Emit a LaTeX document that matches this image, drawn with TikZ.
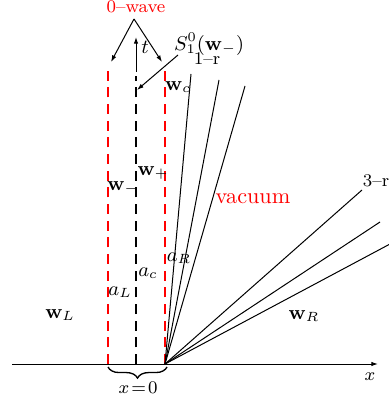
\documentclass[tikz,border=0pt]{standalone}
\usetikzlibrary{decorations.pathreplacing,arrows.meta}
\begin{document}
\begin{tikzpicture}[x=0.45pt,y=-0.45pt,
  lbl/.style={inner sep=0pt,font=\small},
  sml/.style={inner sep=0pt,font=\footnotesize},
  redd/.style={red,line width=0.6pt,dash pattern=on 4.5pt off 3pt},
  blkd/.style={black,line width=0.6pt,dash pattern=on 4.5pt off 3pt},
  fan/.style={line width=0.45pt},
  arr/.style={-{Latex[length=3pt,width=2pt]},line width=0.45pt}]
\useasboundingbox (0,0) rectangle (389,401);
% axis
\coordinate (xs) at (12,364);
\coordinate (xe) at (378,364);
\draw[arr] (xs) -- (xe);
\node[sml] (xl) at (370,377) {$x$};
% origin
\coordinate (O) at (165,364);
\coordinate (L0) at (108,364);
\coordinate (C0) at (136,364);
\coordinate (Ltop) at (108,68);
\coordinate (Rtop) at (165,68);
\coordinate (Ctop) at (136,76);
\draw[redd] (L0) -- (Ltop);
\draw[redd] (O) -- (Rtop);
\draw[blkd] (C0) -- (Ctop);
% t arrow
\coordinate (tb) at (136,72);
\coordinate (tt) at (136,37);
\draw[arr] (tb) -- (tt);
\node[lbl] (tl) at (145,47) {$t$};
% 1-r fan
\coordinate (r1) at (191,74);
\coordinate (r2) at (219,80);
\coordinate (r3) at (245,86);
\draw[fan] (O) -- (r1);
\draw[fan] (O) -- (r2);
\draw[fan] (O) -- (r3);
\node[sml] (orr) at (207,59) {1--r};
% 3-r fan
\coordinate (s1) at (362,190);
\coordinate (s2) at (380,222);
\coordinate (s3) at (390,244);
\draw[fan] (O) -- (s1);
\draw[fan] (O) -- (s2);
\draw[fan] (O) -- (s3);
\node[sml] (tr) at (376,181) {3--r};
% 0-wave
\node[red,sml,anchor=north] (zw) at (136,0) {0--wave};
\coordinate (zwa) at (134,19);
\coordinate (zwl) at (111,62);
\coordinate (zwr) at (162,62);
\draw[arr] (zwa) -- (zwl);
\draw[arr] (zwa) -- (zwr);
% S label
\node[lbl] (S) at (209,44) {$S^{0}_{1}(\mathbf{w}_-)$};
\coordinate (Sa) at (178,55);
\coordinate (Sb) at (137,90);
\draw[arr] (Sa) -- (Sb);
% labels
\node[lbl] (wc) at (178,87) {$\mathbf{w}_c$};
\node[lbl] (wp) at (153,173) {$\mathbf{w}_+$};
\node[lbl] (wm) at (123,188) {$\mathbf{w}_-$};
\node[lbl] (aR) at (179,258) {$a_R$};
\node[lbl] (ac) at (148,273) {$a_c$};
\node[lbl] (aL) at (120,292) {$a_L$};
\node[red,inner sep=0pt] (vac) at (253,199) {vacuum};
\node[lbl] (wL) at (60,315) {$\mathbf{w}_L$};
\node[lbl] (wR) at (304,316) {$\mathbf{w}_R$};
% brace
\coordinate (bl) at (108,367);
\coordinate (br) at (167,367);
\draw[decorate,decoration={brace,mirror,amplitude=5pt},line width=0.6pt] (bl) -- (br);
\node[sml] (x0) at (138,388) {$x\!=\!0$};
\end{tikzpicture}
\end{document}
